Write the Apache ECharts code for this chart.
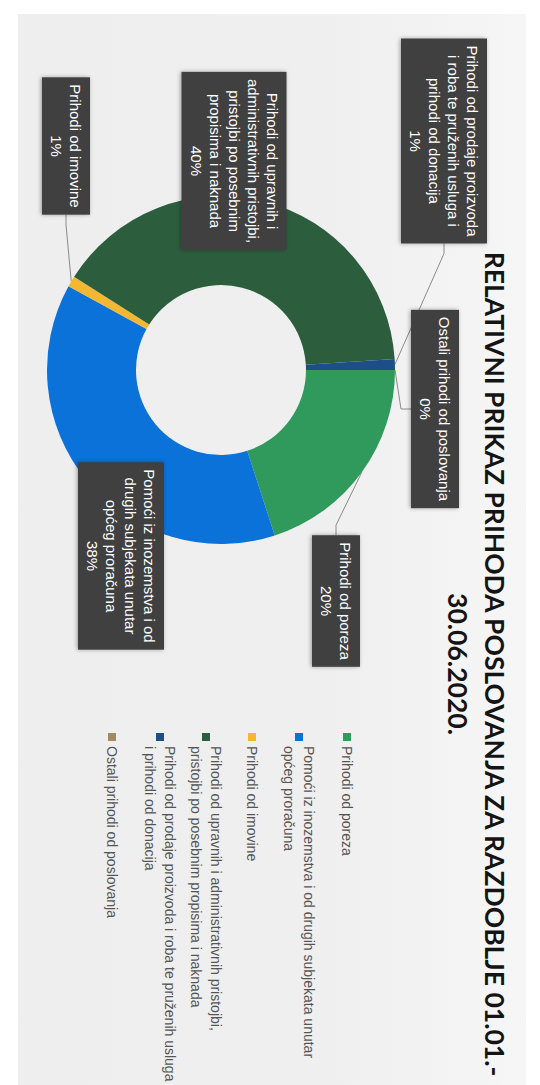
<!DOCTYPE html>
<html>
<head>
<meta charset="utf-8">
<script src="https://cdn.jsdelivr.net/npm/echarts@6/dist/echarts.min.js"></script>
<style>
  html, body { margin: 0; padding: 0; background: #ffffff; width: 540px; height: 1085px; overflow: hidden; }
  #wrap { position: absolute; left: 0; top: 0; width: 1085px; height: 540px;
          transform-origin: 0 0; transform: translate(540px, 0) rotate(90deg); background: #ffffff; }
  #panel { position: absolute; left: 14px; top: 14px; right: 0; bottom: 18px;
           background: linear-gradient(to bottom, #f6f6f6, #efefef 40%, #eeeeee); }
  #chart { position: absolute; left: 0; top: 0; width: 1085px; height: 540px; }
</style>
</head>
<body>
<div id="wrap"><div id="panel"></div><div id="chart"></div></div>
<script>
// ---- data ----
const categories = [
  'Prihodi od poreza',
  'Pomoći iz inozemstva i od drugih subjekata unutar općeg proračuna',
  'Prihodi od imovine',
  'Prihodi od upravnih i administrativnih pristojbi, pristojbi po posebnim propisima i naknada',
  'Prihodi od prodaje proizvoda i roba te pruženih usluga i prihodi od donacija',
  'Ostali prihodi od poslovanja'
];
const shares = [20, 38, 1, 40, 1, 0];
const legendLabels = [
  'Prihodi od poreza',
  'Pomoći iz inozemstva i od drugih subjekata unutar\nopćeg proračuna',
  'Prihodi od imovine',
  'Prihodi od upravnih i administrativnih pristojbi,\npristojbi po posebnim propisima i naknada',
  'Prihodi od prodaje proizvoda i roba te pruženih usluga\ni prihodi od donacija',
  'Ostali prihodi od poslovanja'
];
const calloutLabels = [
  'Prihodi od poreza',
  'Pomoći iz inozemstva i od\ndrugih subjekata unutar\nopćeg proračuna',
  'Prihodi od imovine',
  'Prihodi od upravnih i\nadministrativnih pristojbi,\npristojbi po posebnim\npropisima i naknada',
  'Prihodi od prodaje proizvoda\ni roba te pruženih usluga i\nprihodi od donacija',
  'Ostali prihodi od poslovanja'
];
const titleText = 'RELATIVNI PRIKAZ PRIHODA POSLOVANJA ZA RAZDOBLJE 01.01.-\n30.06.2020.';

// ---- styling / layout ----
const sliceColors = ['#2f9a5c', '#0b72da', '#f4b731', '#2c5e3e', '#1c4f88', '#a08c60'];
const calloutCenters = [[601, 204], [556, 419], [146, 474], [161, 306], [141, 96], [409, 105]];
const legendIconV = [193, 241, 288, 334, 380, 428];

const chart = echarts.init(document.getElementById('chart'), null, { renderer: 'svg', width: 1085, height: 540 });

const legends = categories.map((name, i) => {
  const twoLine = legendLabels[i].indexOf('\n') >= 0;
  return {
    data: [name],
    orient: 'vertical',
    left: 733,
    top: legendIconV[i] - (twoLine ? 30 : 10),
    padding: 0,
    icon: 'rect',
    itemWidth: 8,
    itemHeight: 8,
    selectedMode: false,
    formatter: () => legendLabels[i],
    textStyle: {
      fontFamily: 'Liberation Sans',
      fontSize: 14,
      color: '#555555',
      lineHeight: 20,
      padding: twoLine ? [20, 0, 0, 0] : 0
    }
  };
});

chart.setOption({
  animation: false,
  backgroundColor: 'transparent',
  color: sliceColors,
  title: {
    text: titleText,
    left: 664,
    top: 27,
    padding: 0,
    textAlign: 'center',
    textStyle: { fontFamily: 'Lato', fontWeight: 'bold', fontSize: 26.5, lineHeight: 37, color: '#141414' }
  },
  legend: legends,
  series: [{
    type: 'pie',
    center: [370, 319],
    radius: [85, 174],
    startAngle: 90,
    clockwise: true,
    avoidLabelOverlap: false,
    percentPrecision: 0,
    silent: true,
    data: categories.map((name, i) => ({
      name: name,
      value: shares[i],
      labelLine: i === 3 ? { show: false } : undefined
    })),
    label: {
      show: true,
      position: 'outside',
      formatter: p => calloutLabels[p.dataIndex] + '\n' + Math.round(p.percent) + '%',
      backgroundColor: '#3f3f3f',
      color: '#ffffff',
      fontFamily: 'Liberation Sans',
      fontSize: 15,
      lineHeight: 19,
      align: 'center',
      padding: [5, 7],
      shadowColor: 'rgba(0,0,0,0.35)',
      shadowBlur: 4,
      shadowOffsetY: 1
    },
    labelLine: {
      show: true,
      length: 10,
      length2: 10,
      lineStyle: { color: '#8a8a8a', width: 1 }
    },
    labelLayout: p => ({
      x: calloutCenters[p.dataIndex][0],
      y: calloutCenters[p.dataIndex][1],
      align: 'center',
      verticalAlign: 'middle'
    })
  }]
});
</script>
</body>
</html>
